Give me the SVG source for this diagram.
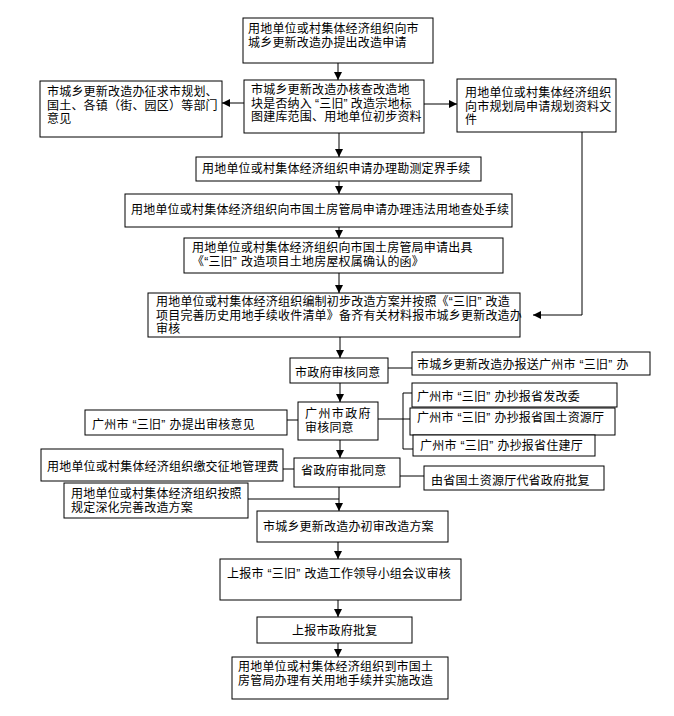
<svg xmlns="http://www.w3.org/2000/svg" width="674" height="716" viewBox="0 0 674 716">
<style>
.b{fill:#fff;stroke:#000;stroke-width:1}
.t{font-family:"Liberation Sans","Noto Sans CJK SC",sans-serif;font-size:12px;fill:#000;letter-spacing:0.2px}
.c{fill:none;stroke:#000;stroke-width:1}
</style>
<defs>
<marker id="ah" markerUnits="userSpaceOnUse" markerWidth="8" markerHeight="8" refX="8" refY="4" orient="auto">
<path d="M0,0 L8,4 L0,8 z" fill="#000"/>
</marker>
</defs>
<rect width="674" height="716" fill="#fff"/>
<g id="connectors">
<line class="c" x1="338" y1="63" x2="338" y2="80" marker-end="url(#ah)"/>
<line class="c" x1="244" y1="103" x2="222" y2="103" marker-end="url(#ah)"/>
<line class="c" x1="424" y1="104" x2="457" y2="104" marker-end="url(#ah)"/>
<line class="c" x1="339" y1="133" x2="339" y2="157" marker-end="url(#ah)"/>
<line class="c" x1="339" y1="181" x2="339" y2="194" marker-end="url(#ah)"/>
<line class="c" x1="339" y1="227" x2="339" y2="238" marker-end="url(#ah)"/>
<line class="c" x1="339" y1="273" x2="339" y2="293" marker-end="url(#ah)"/>
<polyline class="c" points="582,132 582,315 533,315" marker-end="url(#ah)"/>
<line class="c" x1="340" y1="337" x2="340" y2="358" marker-end="url(#ah)"/>
<line class="c" x1="388" y1="368" x2="412" y2="368"/>
<line class="c" x1="340" y1="383" x2="340" y2="402" marker-end="url(#ah)"/>
<line class="c" x1="378" y1="419" x2="410" y2="419"/>
<polyline class="c" points="412,393 403,393 403,449 413,449"/>
<line class="c" x1="287" y1="420" x2="298" y2="420"/>
<line class="c" x1="340" y1="440" x2="340" y2="458" marker-end="url(#ah)"/>
<line class="c" x1="400" y1="476" x2="424" y2="476"/>
<line class="c" x1="283" y1="469" x2="294" y2="469"/>
<line class="c" x1="248" y1="499" x2="339" y2="499"/>
<line class="c" x1="339" y1="487" x2="339" y2="511" marker-end="url(#ah)"/>
<line class="c" x1="338" y1="542" x2="338" y2="559" marker-end="url(#ah)"/>
<line class="c" x1="338" y1="600" x2="338" y2="617" marker-end="url(#ah)"/>
<line class="c" x1="338" y1="643" x2="338" y2="657" marker-end="url(#ah)"/>
</g>
<g id="n1"><rect class="b" x="243" y="18" width="190" height="45"/>
<text class="t"><tspan x="248" y="33">用地单位或村集体经济组织向市</tspan><tspan x="248" y="47">城乡更新改造办提出改造申请</tspan></text></g>
<g id="n2"><rect class="b" x="244" y="80" width="180" height="53"/>
<text class="t"><tspan x="251" y="94">市城乡更新改造办核查改造地</tspan><tspan x="251" y="107.5">块是否纳入<tspan dx="3">“</tspan>三旧”<tspan dx="3">改</tspan>造宗地标</tspan><tspan x="251" y="121">图建库范围、用地单位初步资料</tspan></text></g>
<g id="n_left1"><rect class="b" x="40" y="81" width="182" height="56"/>
<text class="t"><tspan x="47" y="96">市城乡更新改造办征求市规划、</tspan><tspan x="47" y="109.5">国土、各镇（街、园区）等部门</tspan><tspan x="47" y="123">意见</tspan></text></g>
<g id="n_right1"><rect class="b" x="457" y="79" width="159" height="53"/>
<text class="t"><tspan x="465" y="97">用地单位或村集体经济组织</tspan><tspan x="465" y="110.5">向市规划局申请规划资料文</tspan><tspan x="465" y="124">件</tspan></text></g>
<g id="n3"><rect class="b" x="196" y="157" width="285" height="24"/>
<text class="t" x="202" y="173">用地单位或村集体经济组织申请办理勘测定界手续</text></g>
<g id="n4"><rect class="b" x="125" y="194" width="387" height="33"/>
<text class="t" x="131" y="214">用地单位或村集体经济组织向市国土房管局申请办理违法用地查处手续</text></g>
<g id="n5"><rect class="b" x="184" y="238" width="319" height="35"/>
<text class="t"><tspan x="192" y="252">用地单位或村集体经济组织向市国土房管局申请出具</tspan><tspan x="192" y="265.5">《“三旧”<tspan dx="4">改</tspan>造项目土地房屋权属确认的函》</tspan></text></g>
<g id="n6"><rect class="b" x="148" y="293" width="372" height="44"/>
<text class="t"><tspan x="156" y="306">用地单位或村集体经济组织编制初步改造方案并按照《“三旧”<tspan dx="4">改</tspan>造</tspan><tspan x="156" y="319.5">项目完善历史用地手续收件清单》备齐有关材料报市城乡更新改造办</tspan><tspan x="156" y="333">审核</tspan></text></g>
<g id="n7"><rect class="b" x="290" y="358" width="98" height="25"/>
<text class="t" x="295" y="377">市政府审核同意</text></g>
<g id="n7r"><rect class="b" x="412" y="352" width="238" height="23"/>
<text class="t" x="417" y="369">市城乡更新改造办报送广州市<tspan dx="4">“</tspan>三旧”<tspan dx="4">办</tspan></text></g>
<g id="n8"><rect class="b" x="298" y="402" width="80" height="38"/>
<text class="t"><tspan x="305" y="418" letter-spacing="1.4">广州市政府</tspan><tspan x="305" y="432">审核同意</tspan></text></g>
<g id="n8r1"><rect class="b" x="412" y="383" width="205" height="24"/>
<text class="t" x="417" y="401">广州市<tspan dx="4">“</tspan>三旧”<tspan dx="4">办</tspan>抄报省发改委</text></g>
<g id="n8r2"><rect class="b" x="410" y="408" width="205" height="27"/>
<text class="t" x="417" y="422">广州市<tspan dx="4">“</tspan>三旧”<tspan dx="4">办</tspan>抄报省国土资源厅</text></g>
<g id="n8r3"><rect class="b" x="413" y="435" width="182" height="21"/>
<text class="t" x="420" y="450">广州市<tspan dx="4">“</tspan>三旧”<tspan dx="4">办</tspan>抄报省住建厅</text></g>
<g id="n8l"><rect class="b" x="85" y="410" width="202" height="25"/>
<text class="t" x="92" y="429">广州市<tspan dx="4">“</tspan>三旧”<tspan dx="4">办</tspan>提出审核意见</text></g>
<g id="n9"><rect class="b" x="294" y="458" width="106" height="29"/>
<text class="t" x="301" y="475">省政府审批同意</text></g>
<g id="n9r"><rect class="b" x="424" y="466" width="180" height="24"/>
<text class="t" x="431" y="485">由省国土资源厅代省政府批复</text></g>
<g id="n9l"><rect class="b" x="41" y="449" width="242" height="32"/>
<text class="t" x="47" y="471">用地单位或村集体经济组织缴交征地管理费</text></g>
<g id="n9l2"><rect class="b" x="64" y="483" width="184" height="35"/>
<text class="t"><tspan x="71" y="498">用地单位或村集体经济组织按照</tspan><tspan x="71" y="511.5">规定深化完善改造方案</tspan></text></g>
<g id="n10"><rect class="b" x="257" y="511" width="191" height="31"/>
<text class="t" x="263" y="531">市城乡更新改造办初审改造方案</text></g>
<g id="n11"><rect class="b" x="220" y="559" width="241" height="41"/>
<text class="t" x="227" y="578">上报市<tspan dx="4">“</tspan>三旧”<tspan dx="4">改</tspan>造工作领导小组会议审核</text></g>
<g id="n12"><rect class="b" x="257" y="617" width="155" height="26"/>
<text class="t" x="292" y="635">上报市政府批复</text></g>
<g id="n13"><rect class="b" x="232" y="657" width="216" height="42"/>
<text class="t"><tspan x="238" y="671">用地单位或村集体经济组织到市国土</tspan><tspan x="238" y="684.5">房管局办理有关用地手续并实施改造</tspan></text></g>
</svg>
